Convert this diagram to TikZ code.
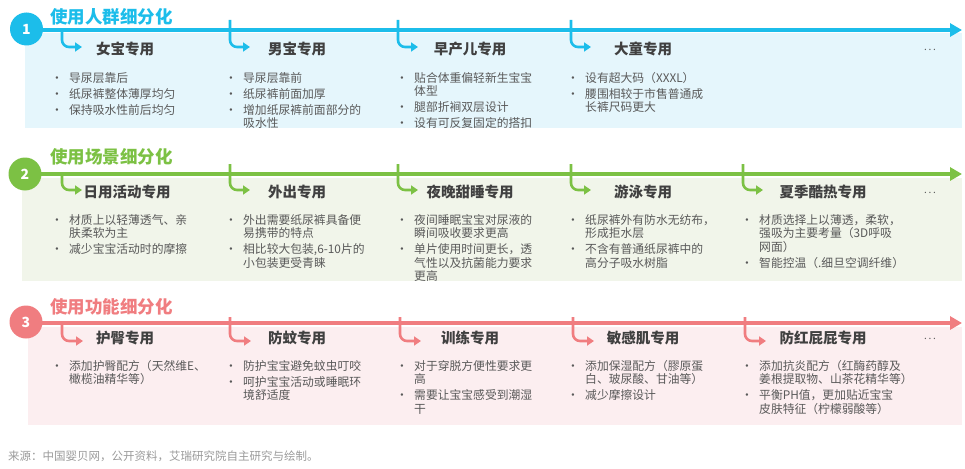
\documentclass[tikz,border=0pt]{standalone}
\usepackage{fontspec}
\setmainfont{Noto Sans CJK SC}
\usetikzlibrary{arrows.meta}
\definecolor{cblue}{HTML}{1CBDEA}
\definecolor{bgblue}{HTML}{E5F6FC}
\definecolor{cgreen}{HTML}{7CC144}
\definecolor{bggreen}{HTML}{F1F5EA}
\definecolor{cpink}{HTML}{F07D80}
\definecolor{bgpink}{HTML}{FCEEF0}
\definecolor{txtgray}{HTML}{595959}
\definecolor{ttlgray}{HTML}{404040}
\definecolor{srcgray}{HTML}{9A9A9A}
\newcommand\bl{\makebox[18pt][l]{•}}
\newcommand\ci{\hspace*{18pt}}
\newcommand\fc{\makebox[1em][l]{，}}
\newcommand\fdun{\makebox[1em][l]{、}}
\newcommand\flp{\makebox[1em][r]{（}}
\newcommand\frp{\makebox[1em][l]{）}}
\newcommand\fpd{\makebox[1em][l]{。}}
\newcommand\fcl{\makebox[1em][c]{：}}
\begin{document}
\begin{tikzpicture}[x=1pt,y=-1pt,line join=round,
  sectitle/.style={anchor=west,font=\fontsize{17.5}{20}\selectfont\bfseries,inner sep=0},
  numc/.style={circle,minimum size=33pt,inner sep=0,text=white,font=\fontsize{14}{14}\selectfont\bfseries},
  ttl/.style={font=\fontsize{14.5}{16}\selectfont\bfseries,text=ttlgray,inner sep=0},
  body/.style={anchor=north west,align=left,inner sep=0,text=txtgray,font=\fontsize{11.8}{13.5}\selectfont},
  mainarrow/.style={line width=4pt,-{Triangle[length=12pt,width=13pt]}},
  hookarrow/.style={line width=2.6pt,rounded corners=7pt,-{Triangle[length=7pt,width=9pt]}},
  dotsnode/.style={text=txtgray,font=\fontsize{10}{10}\selectfont,inner sep=0}]
\useasboundingbox (0,0) rectangle (965,468);
% backgrounds
\fill[bgblue] (25,33) rectangle (962,128);
\fill[bggreen] (22,178) rectangle (962,281);
\fill[bgpink] (28,327) rectangle (962,425);

% ---------- section 1 ----------
\coordinate (e1) at (962,30);
\coordinate (s1) at (26.5,30);
\draw[mainarrow,cblue] (s1) -- (e1);
\node[numc,fill=cblue] (c1) at (26.5,29) {1};
\node[sectitle,text=cblue] (st1) at (50,17) {使用人群细分化};
\foreach \i/\x/\t in {a/62/30,b/230/20,c/398/20,d/571/20}{
  \coordinate (h1\i) at (\x,\t);
  \coordinate (a1\i) at (\x+20,47);
  \draw[hookarrow,cblue] (h1\i) |- (a1\i);
}
\node[ttl] (t1a) at (125,49) {女宝专用};
\node[ttl] (t1b) at (297,49) {男宝专用};
\node[ttl] (t1c) at (470,49) {早产儿专用};
\node[ttl] (t1d) at (643,49) {大童专用};
\node[dotsnode] (d1) at (930,50) {.\,.\,.};
\node[body] (b1a) at (51,72) {\bl 导尿层靠后\\[2.5pt]\bl 纸尿裤整体薄厚均匀\\[2.5pt]\bl 保持吸水性前后均匀};
\node[body] (b1b) at (225,72) {\bl 导尿层靠前\\[2.5pt]\bl 纸尿裤前面加厚\\[2.5pt]\bl 增加纸尿裤前面部分的\\\ci 吸水性};
\node[body] (b1c) at (396,72) {\bl 贴合体重偏轻新生宝宝\\\ci 体型\\[2.5pt]\bl 腿部折裥双层设计\\[2.5pt]\bl 设有可反复固定的搭扣};
\node[body] (b1d) at (567,72) {\bl 设有超大码\flp XXXL\frp\\[2.5pt]\bl 腰围相较于市售普通成\\\ci 长裤尺码更大};

% ---------- section 2 ----------
\coordinate (e2) at (962,174);
\coordinate (s2) at (25,174);
\draw[mainarrow,cgreen] (s2) -- (e2);
\node[numc,fill=cgreen] (c2) at (25,174) {2};
\node[sectitle,text=cgreen] (st2) at (50,157) {使用场景细分化};
\foreach \i/\x/\t in {a/62/174,b/230/164,c/398/164,d/571/164,e/743/164}{
  \coordinate (h2\i) at (\x,\t);
  \coordinate (a2\i) at (\x+20,190);
  \draw[hookarrow,cgreen] (h2\i) |- (a2\i);
}
\node[ttl] (t2a) at (127,192) {日用活动专用};
\node[ttl] (t2b) at (297,192) {外出专用};
\node[ttl] (t2c) at (470,192) {夜晚甜睡专用};
\node[ttl] (t2d) at (643,192) {游泳专用};
\node[ttl] (t2e) at (823,192) {夏季酷热专用};
\node[dotsnode] (d2) at (930,193) {.\,.\,.};
\node[body] (b2a) at (51,214) {\bl 材质上以轻薄透气\fdun 亲\\\ci 肤柔软为主\\[2.5pt]\bl 减少宝宝活动时的摩擦};
\node[body] (b2b) at (225,214) {\bl 外出需要纸尿裤具备便\\\ci 易携带的特点\\[2.5pt]\bl 相比较大包装,6-10片的\\\ci 小包装更受青睐};
\node[body] (b2c) at (396,214) {\bl 夜间睡眠宝宝对尿液的\\\ci 瞬间吸收要求更高\\[2.5pt]\bl 单片使用时间更长\fc 透\\\ci 气性以及抗菌能力要求\\\ci 更高};
\node[body] (b2d) at (567,214) {\bl 纸尿裤外有防水无纺布\fc\\\ci 形成拒水层\\[2.5pt]\bl 不含有普通纸尿裤中的\\\ci 高分子吸水树脂};
\node[body] (b2e) at (741,214) {\bl 材质选择上以薄透\fc 柔软\fc\\\ci 强吸为主要考量\flp 3D呼吸\\\ci 网面\frp\\[2.5pt]\bl 智能控温\flp .细旦空调纤维\frp};

% ---------- section 3 ----------
\coordinate (e3) at (962,323);
\coordinate (s3) at (26,323);
\draw[mainarrow,cpink] (s3) -- (e3);
\node[numc,fill=cpink] (c3) at (26,322) {3};
\node[sectitle,text=cpink] (st3) at (50,307) {使用功能细分化};
\foreach \i/\x/\t in {a/62/323,b/230/317,c/400/317,d/573/317,e/745/317}{
  \coordinate (h3\i) at (\x,\t);
  \coordinate (a3\i) at (\x+21,341);
  \draw[hookarrow,cpink] (h3\i) |- (a3\i);
}
\node[ttl] (t3a) at (125,338) {护臀专用};
\node[ttl] (t3b) at (297,338) {防蚊专用};
\node[ttl] (t3c) at (470,338) {训练专用};
\node[ttl] (t3d) at (643,338) {敏感肌专用};
\node[ttl] (t3e) at (823,338) {防红屁屁专用};
\node[dotsnode] (d3) at (930,339) {.\,.\,.};
\node[body] (b3a) at (51,360) {\bl 添加护臀配方\flp 天然维E\fdun\\\ci 橄榄油精华等\frp};
\node[body] (b3b) at (225,360) {\bl 防护宝宝避免蚊虫叮咬\\[2.5pt]\bl 呵护宝宝活动或睡眠环\\\ci 境舒适度};
\node[body] (b3c) at (396,360) {\bl 对于穿脱方便性要求更\\\ci 高\\[2.5pt]\bl 需要让宝宝感受到潮湿\\\ci 干};
\node[body] (b3d) at (567,360) {\bl 添加保湿配方\flp 膠原蛋\\\ci 白\fdun 玻尿酸\fdun 甘油等\frp\\[2.5pt]\bl 减少摩擦设计};
\node[body] (b3e) at (741,360) {\bl 添加抗炎配方\flp 红酶药醇及\\\ci 姜根提取物\fdun 山茶花精华等\frp\\[2.5pt]\bl 平衡PH值\fc 更加贴近宝宝\\\ci 皮肤特征\flp 柠檬弱酸等\frp};

% source
\node[anchor=west,inner sep=0,text=srcgray,font=\fontsize{11.5}{13}\selectfont] (src) at (8,456) {来源\fcl 中国婴贝网\fc 公开资料\fc 艾瑞研究院自主研究与绘制\fpd};
\end{tikzpicture}
\end{document}
